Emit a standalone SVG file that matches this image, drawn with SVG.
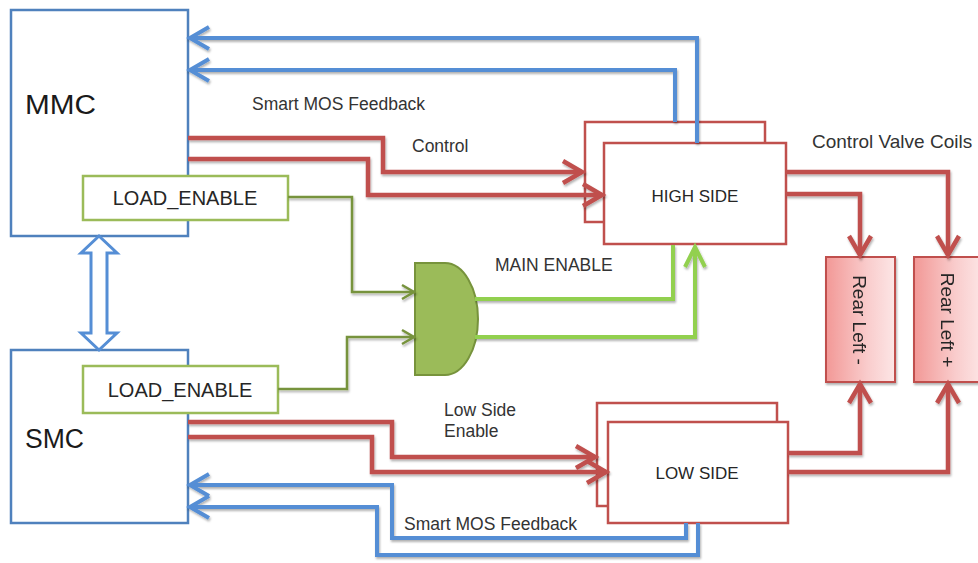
<svg xmlns="http://www.w3.org/2000/svg" width="978" height="563" viewBox="0 0 978 563">
  <defs>
    <style>
      .blk { fill: #ffffff; stroke: #4f81bd; stroke-width: 2.5; }
      .en { fill: #ffffff; stroke: #9bbb59; stroke-width: 2.5; }
      .drv { fill: #ffffff; stroke: #c0504d; stroke-width: 2.5; }
      .coil { fill: url(#coilFill); stroke: #c0504d; stroke-width: 2; }
      .big { font-family: "Liberation Sans", Arial, sans-serif; font-size: 27px; fill: #1a1a1a; }
      .box { font-family: "Liberation Sans", Arial, sans-serif; font-size: 20px; fill: #262626; text-anchor: middle; }
      .drvtxt { font-family: "Liberation Sans", Arial, sans-serif; font-size: 17px; fill: #262626; text-anchor: middle; }
      .lbl { font-family: "Liberation Sans", Arial, sans-serif; font-size: 17.5px; fill: #333333; }
      .red { fill: none; stroke: #c0504d; stroke-width: 4.5; }
      .blue { fill: none; stroke: #558ed5; stroke-width: 4; }
      .lgreen { fill: none; stroke: #92d050; stroke-width: 4; }
      .dgreen { fill: none; stroke: #77933c; stroke-width: 2.5; }
    </style>
    <linearGradient id="coilFill" x1="0" y1="0" x2="1" y2="0">
      <stop offset="0" stop-color="#f29896"/>
      <stop offset="0.6" stop-color="#f9cccc"/>
      <stop offset="1" stop-color="#fde6e6"/>
    </linearGradient>
    <filter id="shade" x="-5%" y="-5%" width="110%" height="115%">
      <feDropShadow dx="1" dy="2" stdDeviation="1.2" flood-color="#000000" flood-opacity="0.3"/>
    </filter>
    <marker id="arRed" markerUnits="userSpaceOnUse" markerWidth="30" markerHeight="30" viewBox="-25 -15 30 30" refX="0" refY="0" orient="auto" overflow="visible">
      <path d="M-19,-11 L0,0 L-19,11" fill="none" stroke="#c0504d" stroke-width="4.5"/>
    </marker>
    <marker id="arBlue" markerUnits="userSpaceOnUse" markerWidth="30" markerHeight="30" viewBox="-25 -15 30 30" refX="0" refY="0" orient="auto" overflow="visible">
      <path d="M-19,-11 L0,0 L-19,11" fill="none" stroke="#558ed5" stroke-width="4"/>
    </marker>
    <marker id="arLGreen" markerUnits="userSpaceOnUse" markerWidth="30" markerHeight="30" viewBox="-25 -15 30 30" refX="0" refY="0" orient="auto" overflow="visible">
      <path d="M-20,-10 L0,0 L-20,10" fill="none" stroke="#92d050" stroke-width="4"/>
    </marker>
    <marker id="arDGreen" markerUnits="userSpaceOnUse" markerWidth="20" markerHeight="20" viewBox="-15 -10 20 20" refX="0" refY="0" orient="auto" overflow="visible">
      <path d="M-12,-7 L0,0 L-12,7" fill="none" stroke="#77933c" stroke-width="2.5"/>
    </marker>
  </defs>

  <rect width="978" height="563" fill="#ffffff"/>

  <!-- controllers -->
  <g id="mmc">
    <rect class="blk" x="11" y="10" width="177" height="226"/>
    <text class="big" x="25" y="114" textLength="71" lengthAdjust="spacingAndGlyphs">MMC</text>
  </g>
  <g id="smc">
    <rect class="blk" x="11" y="350" width="177" height="173"/>
    <text class="big" x="25" y="448" textLength="59" lengthAdjust="spacingAndGlyphs">SMC</text>
  </g>
  <g id="mmc-load-enable">
    <rect class="en" x="83" y="176" width="205" height="44"/>
    <text class="box" x="185" y="205">LOAD_ENABLE</text>
  </g>
  <g id="smc-load-enable">
    <rect class="en" x="83" y="366" width="195" height="47"/>
    <text class="box" x="180" y="397">LOAD_ENABLE</text>
  </g>

  <!-- inter-controller link -->
  <g id="mmc-smc-link">
    <polygon points="99,236 117,253 107,253 107,333 117,333 99,350 81,333 91,333 91,253 81,253" fill="#ffffff" stroke="#558ed5" stroke-width="3" stroke-linejoin="miter"/>
  </g>

  <!-- AND gate -->
  <g id="and-gate">
    <path d="M415,263 H445 A33,56 0 0 1 445,375 H415 Z" fill="#9bbb59" stroke="#77933c" stroke-width="2"/>
  </g>

  <!-- drivers -->
  <g id="high-side">
    <rect class="drv" x="585" y="122" width="180" height="100"/>
    <rect class="drv" x="604" y="143" width="182" height="101"/>
    <text class="drvtxt" x="695" y="202">HIGH SIDE</text>
  </g>
  <g id="low-side">
    <rect class="drv" x="597" y="403" width="180" height="103"/>
    <rect class="drv" x="608" y="422" width="180" height="101"/>
    <text class="drvtxt" x="697" y="479">LOW SIDE</text>
  </g>

  <!-- valve coils -->
  <g id="rear-left-minus" filter="url(#shade)">
    <rect class="coil" x="826" y="257" width="69" height="125"/>
    <text class="lbl" transform="translate(853,320) rotate(90)" text-anchor="middle" style="font-size:19px;fill:#262626">Rear Left -</text>
  </g>
  <g id="rear-left-plus" filter="url(#shade)">
    <rect class="coil" x="914" y="257" width="69" height="125"/>
    <text class="lbl" transform="translate(941,320) rotate(90)" text-anchor="middle" style="font-size:19px;fill:#262626">Rear Left +</text>
  </g>

  <!-- connectors -->
  <g id="connectors" filter="url(#shade)">
    <!-- feedback to MMC -->
    <path class="blue" d="M697,143 V38 H190" marker-end="url(#arBlue)"/>
    <path class="blue" d="M675,122 V70 H190" marker-end="url(#arBlue)"/>
    <!-- MMC control to high side -->
    <path class="red" d="M188,138 H383 V172 H582" marker-end="url(#arRed)"/>
    <path class="red" d="M188,159 H368 V195 H602" marker-end="url(#arRed)"/>
    <!-- high side to coils -->
    <path class="red" d="M786,172 H948 V255" marker-end="url(#arRed)"/>
    <path class="red" d="M786,194 H860 V255" marker-end="url(#arRed)"/>
    <!-- low side to coils -->
    <path class="red" d="M788,453 H860 V384" marker-end="url(#arRed)"/>
    <path class="red" d="M788,472 H948 V384" marker-end="url(#arRed)"/>
    <!-- SMC low side enable -->
    <path class="red" d="M188,422 H392 V457 H595" marker-end="url(#arRed)"/>
    <path class="red" d="M188,437 H372 V472 H606" marker-end="url(#arRed)"/>
    <!-- feedback to SMC -->
    <path class="blue" d="M686,523 V538 H392 V485 H190" marker-end="url(#arBlue)"/>
    <path class="blue" d="M698,523 V555 H377 V507 H190" marker-end="url(#arBlue)"/>
    <!-- load enables into gate -->
    <path class="dgreen" d="M288,197 H352 V292 H414" marker-end="url(#arDGreen)"/>
    <path class="dgreen" d="M278,389 H347 V337 H414" marker-end="url(#arDGreen)"/>
    <!-- main enable -->
    <path class="lgreen" d="M475,299 H673 V245"/>
    <path class="lgreen" d="M475,337 H695 V247" marker-end="url(#arLGreen)"/>
  </g>

  <!-- signal labels -->
  <g id="labels">
    <text class="lbl" x="252" y="110">Smart MOS Feedback</text>
    <text class="lbl" x="412" y="152">Control</text>
    <text class="lbl" x="812" y="148" style="font-size:19px">Control Valve Coils</text>
    <text class="lbl" x="495" y="271">MAIN ENABLE</text>
    <text class="lbl" x="444" y="416">Low Side</text>
    <text class="lbl" x="444" y="437">Enable</text>
    <text class="lbl" x="404" y="530">Smart MOS Feedback</text>
  </g>
</svg>
